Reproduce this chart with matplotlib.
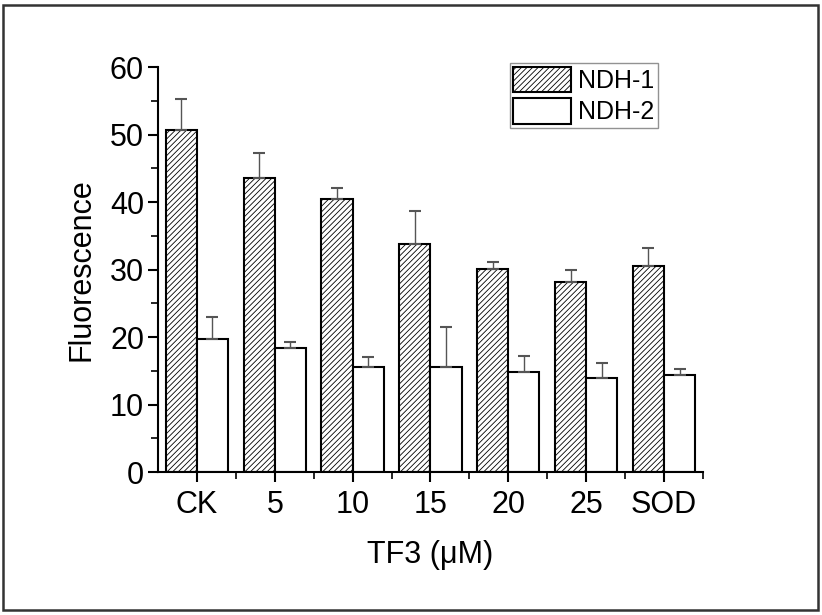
import numpy as np
import matplotlib
matplotlib.use("Agg")
import matplotlib.pyplot as plt
from matplotlib.patches import Rectangle

plt.rcParams['font.family'] = ['Liberation Sans', 'DejaVu Sans']
plt.rcParams['hatch.color'] = '#555555'
plt.rcParams['hatch.linewidth'] = 0.6

# data
categories = ['CK', '5', '10', '15', '20', '25', 'SOD']
ndh1 = [50.6, 43.5, 40.5, 33.8, 30.1, 28.2, 30.5]
ndh1_err = [4.7, 3.7, 1.6, 4.8, 1.0, 1.8, 2.7]
ndh2 = [19.7, 18.3, 15.5, 15.5, 14.8, 14.0, 14.3]
ndh2_err = [3.2, 0.9, 1.6, 6.0, 2.4, 2.1, 0.9]

x = np.arange(len(categories))
w = 0.4

fig = plt.figure(figsize=(8.22, 6.15), dpi=100)
ax = fig.add_axes([0.1922, 0.2325, 0.663, 0.6585])

ax.bar(x - w / 2, ndh1, w, color='white', edgecolor='black', linewidth=1.5,
       hatch='//////', label='NDH-1')
ax.bar(x + w / 2, ndh2, w, color='white', edgecolor='black', linewidth=1.5,
       label='NDH-2')

# upper error bars only
ax.errorbar(x - w / 2, ndh1, yerr=[np.zeros(len(x)), ndh1_err], fmt='none',
            ecolor='#555555', elinewidth=1.0, capsize=4, capthick=1.5, zorder=1)
ax.errorbar(x + w / 2, ndh2, yerr=[np.zeros(len(x)), ndh2_err], fmt='none',
            ecolor='#555555', elinewidth=1.0, capsize=4, capthick=1.5, zorder=1)

ax.set_xlim(-0.5, len(x) - 0.5)
ax.set_ylim(0, 60)
ax.set_yticks(np.arange(0, 61, 10))
ax.set_yticks(np.arange(5, 60, 10), minor=True)
ax.set_xticks(x)
ax.set_xticklabels(categories)
ax.set_xticks(np.arange(0.5, len(x) - 0.4, 1), minor=True)

for s in ['top', 'right']:
    ax.spines[s].set_visible(False)
for s in ['left', 'bottom']:
    ax.spines[s].set_linewidth(1.5)

ax.tick_params(axis='both', which='major', direction='out', length=7, width=1.5,
               labelsize=22, pad=3)
ax.tick_params(axis='both', which='minor', direction='out', length=5, width=1.2)
ax.tick_params(axis='x', which='major', pad=6)

ax.set_ylabel('Fluorescence', fontsize=22, labelpad=10)
ax.set_xlabel('TF3 (\u03bcM)', fontsize=22, labelpad=14)

leg = ax.legend(loc='upper left', bbox_to_anchor=(0.645, 1.01), fontsize=18,
                frameon=True, fancybox=False, edgecolor='#777777',
                handlelength=2.3, handleheight=1.2, handletextpad=0.3,
                borderpad=0.15, labelspacing=0.2, borderaxespad=0)
leg.get_frame().set_linewidth(1.0)

# outer border
fig.patches.append(Rectangle((0.004, 0.008), 0.991, 0.984, transform=fig.transFigure,
                             fill=False, edgecolor='#333333', linewidth=1.8))

fig.savefig('out.png', dpi=100)
